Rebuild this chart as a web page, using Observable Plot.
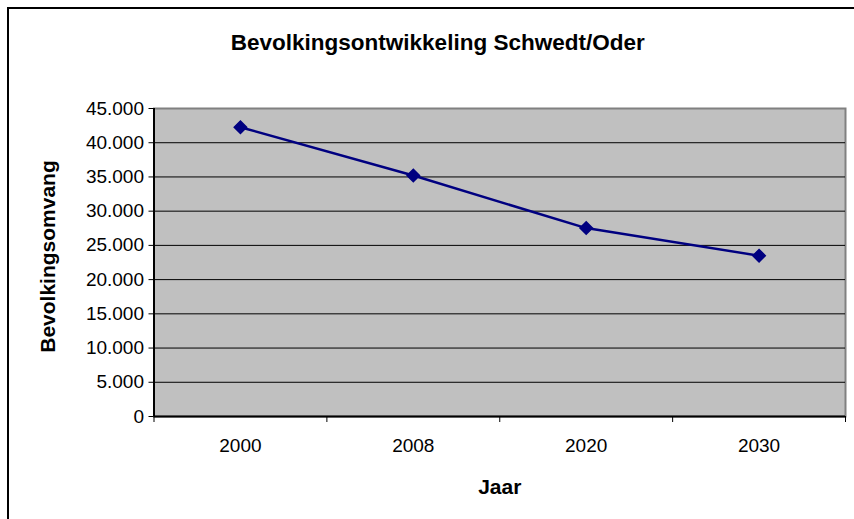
<!DOCTYPE html>
<html>
<head>
<meta charset="utf-8">
<script src="https://cdn.jsdelivr.net/npm/d3@7"></script>
<script src="https://cdn.jsdelivr.net/npm/@observablehq/plot@0.6"></script>
<style>
  html, body { margin: 0; padding: 0; background: #fff; }
  #wrap { position: relative; width: 854px; height: 519px; overflow: hidden; }
  #border { position: absolute; left: 7px; top: 7px; width: 1000px; height: 1000px;
            border-left: 2px solid #000; border-top: 2px solid #000; box-sizing: border-box; pointer-events: none; }
  #chart { position: absolute; left: 0; top: 0; }
</style>
</head>
<body>
<div id="wrap"><div id="chart"></div><div id="border"></div></div>
<script>
const title = "Bevolkingsontwikkeling Schwedt/Oder";
const xLabel = "Jaar";
const yLabel = "Bevolkingsomvang";
const years = ["2000", "2008", "2020", "2030"];
const population = [42270, 35200, 27530, 23500];
const yTicks = [0, 5000, 10000, 15000, 20000, 25000, 30000, 35000, 40000, 45000];

const data = years.map((year, i) => ({pos: i + 0.5, year, value: population[i]}));
const boundaries = d3.range(years.length + 1);
const centers = years.map((_, i) => i + 0.5);

const nl = d3.formatLocale({decimal: ",", thousands: ".", grouping: [3], currency: ["", ""]});
const fmt = nl.format(",");

const navy = "#000080";

const chart = Plot.plot({
  width: 854,
  height: 519,
  marginLeft: 153.5,
  marginRight: 9,
  marginTop: 108,
  marginBottom: 103,
  style: {fontFamily: "'Liberation Sans', Arial, sans-serif", background: "transparent", color: "#000"},
  x: {type: "linear", domain: [0, years.length], axis: null},
  y: {domain: [0, 45000], axis: null},
  marks: [
    Plot.frame({fill: "#C0C0C0", stroke: "#808080", strokeWidth: 2}),
    Plot.ruleY(yTicks.filter(d => d > 0 && d < 45000), {stroke: "#000", strokeWidth: 1}),
    Plot.ruleY([0], {stroke: "#000", strokeWidth: 2}),
    Plot.ruleX([0], {stroke: "#000", strokeWidth: 2}),
    Plot.axisY({ticks: yTicks, tickFormat: fmt, tickSize: 5, tickPadding: 5, fontSize: 19, label: null}),
    Plot.axisX({ticks: boundaries, tickSize: 6, tickFormat: () => "", label: null}),
    Plot.axisX({ticks: centers, tickSize: 0, tickPadding: 22, fontSize: 19, label: null,
                tickFormat: d => years[Math.floor(d)]}),
    Plot.line(data, {x: "pos", y: "value", stroke: navy, strokeWidth: 2.5}),
    Plot.dot(data, {x: "pos", y: "value", symbol: "diamond2", r: 5.6, fill: navy, stroke: navy}),
    Plot.text([title], {frameAnchor: "top", text: d => d, dx: -62, dy: -66, fontSize: 22.5, fontWeight: "bold", lineAnchor: "middle"}),
    Plot.text([xLabel], {frameAnchor: "bottom", text: d => d, dy: 71, fontSize: 21, fontWeight: "bold", lineAnchor: "middle"}),
    Plot.text([yLabel], {frameAnchor: "left", text: d => d, dx: -106, dy: -6, rotate: -90, fontSize: 21, fontWeight: "bold", lineAnchor: "middle", textAnchor: "middle"})
  ]
});
document.getElementById("chart").appendChild(chart);
</script>
</body>
</html>
